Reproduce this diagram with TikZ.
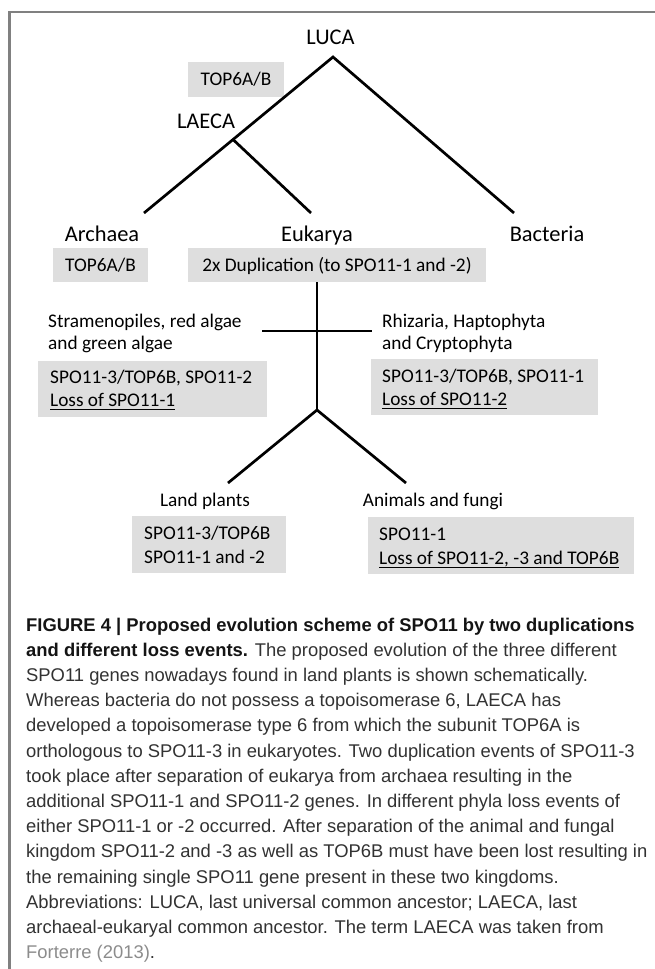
\documentclass[tikz,border=0pt]{standalone}
\usepackage{fontspec}
\setmainfont{Carlito}
\newfontfamily\capfont{Liberation Sans}
\definecolor{boxgray}{RGB}{222,222,222}
\definecolor{framegray}{RGB}{128,128,128}
\definecolor{captext}{RGB}{50,50,50}
\definecolor{capbold}{RGB}{20,20,20}
\definecolor{refgray}{RGB}{140,140,140}
\newsavebox\ulbox
\newcommand\myul[1]{\leavevmode\sbox\ulbox{#1}\rlap{\rule[-3.6pt]{\wd\ulbox}{1.3pt}}\usebox\ulbox}
\begin{document}
\begin{tikzpicture}[x=1pt,y=-1pt,
  big/.style={font=\fontsize{22.4}{26}\selectfont, inner sep=0pt, anchor=base},
  small/.style={font=\fontsize{19.3}{22}\selectfont, inner sep=0pt, anchor=base west},
  smallc/.style={font=\fontsize{19.3}{22}\selectfont, inner sep=0pt, anchor=base},
  onebox/.style={fill=boxgray, inner sep=0pt, font=\fontsize{19.3}{22}\selectfont, text height=12pt, text depth=0pt},
  twobox/.style={fill=boxgray, inner ysep=0pt, anchor=north west},
  branch/.style={line width=2.7pt, draw=black, line join=miter},
  capline/.style={font=\capfont\fontsize{18.4}{25.2}\selectfont, text=captext, inner sep=0pt, anchor=base west},
  framel/.style={line width=2.2pt, draw=framegray}
]
\useasboundingbox (0,0) rectangle (655,969);
\fill[white] (0,0) rectangle (655,969);
% frame
\coordinate (fl) at (9.5,969);
\coordinate (fc) at (9.5,12);
\coordinate (fr) at (655,12);
\draw[framel] (fl) -- (fc) -- (fr);

% labels
\node[big] (luca) at (330.5,44) {LUCA};
\node[big] (laeca) at (206,128) {LAECA};
\node[big] (arch) at (102,241) {Archaea};
\node[big] (euk) at (317,241) {Eukarya};
\node[big] (bact) at (547,241) {Bacteria};

% single-line boxes
\node[onebox, minimum width=96pt, minimum height=35pt] (top6a) at (236,79.5) {TOP6A/B};
\node[onebox, minimum width=95pt, minimum height=34pt] (top6b) at (100.5,265) {TOP6A/B};
\node[onebox, minimum width=298pt, minimum height=34pt] (dup) at (337,265) {2x Duplication (to SPO11-1 and -2)};

% group labels
\node[small] (stram) at (48,327) {\vtop{\hbox{Stramenopiles, red algae}\hbox{and green algae}}};
\node[small] (rhiz) at (382,327) {\vtop{\hbox{Rhizaria, Haptophyta}\hbox{and Cryptophyta}}};
\node[smallc] (land) at (205,506) {Land plants};
\node[smallc] (anim) at (433,506) {Animals and fungi};

% two-line boxes
\node[twobox, inner xsep=12pt] (strbox) at (38,361) {\parbox[c][56pt][t]{205pt}{\fontsize{19.3}{23.5}\selectfont\raggedright\rule{0pt}{22pt}SPO11-3/TOP6B, SPO11-2\\\myul{Loss of SPO11-1}}};
\node[twobox, inner xsep=11pt] (rhizbox) at (371,359) {\parbox[c][56pt][t]{205pt}{\fontsize{19.3}{23}\selectfont\raggedright\rule{0pt}{23pt}SPO11-3/TOP6B, SPO11-1\\\myul{Loss of SPO11-2}}};
\node[twobox, inner xsep=12pt] (landbox) at (132,516) {\parbox[c][57pt][t]{130pt}{\fontsize{19.3}{24}\selectfont\raggedright\rule{0pt}{23pt}SPO11-3/TOP6B\\SPO11-1 and -2}};
\node[twobox, inner xsep=11pt] (animbox) at (368,517) {\parbox[c][57pt][t]{244pt}{\fontsize{19.3}{24}\selectfont\raggedright\rule{0pt}{23pt}SPO11-1\\\myul{Loss of SPO11-2, -3 and TOP6B}}};

% tree
\coordinate (apex) at (333,57);
\coordinate (archend) at (144,213);
\coordinate (junc) at (233,139.5);
\coordinate (eukend) at (311,213);
\coordinate (bactend) at (514,213);
\draw[branch] (archend) -- (apex) -- (bactend);
\draw[branch] (junc) -- (eukend);
\coordinate (vtop) at (317,282);
\coordinate (bpt) at (317,410);
\coordinate (crossl) at (262,331);
\coordinate (crossr) at (372,331);
\coordinate (landend) at (228,483);
\coordinate (animend) at (406,483);
\draw[branch] (vtop) -- (bpt);
\draw[branch] (crossl) -- (crossr);
\draw[branch] (landend) -- (bpt) -- (animend);

% caption
\node[capline] (c1) at (26,631) {\textcolor{capbold}{\bfseries FIGURE 4 | Proposed evolution scheme of SPO11 by two duplications}};
\node[capline] (c2) at (26,656.2) {\textcolor{capbold}{\bfseries and different loss events.} The proposed evolution of the three different};
\node[capline] (c3) at (26,681.4) {SPO11 genes nowadays found in land plants is shown schematically.};
\node[capline] (c4) at (26,706.6) {Whereas bacteria do not possess a topoisomerase 6, LAECA has};
\node[capline] (c5) at (26,731.8) {developed a topoisomerase type 6 from which the subunit TOP6A is};
\node[capline] (c6) at (26,757) {orthologous to SPO11-3 in eukaryotes. Two duplication events of SPO11-3};
\node[capline] (c7) at (26,782.2) {took place after separation of eukarya from archaea resulting in the};
\node[capline] (c8) at (26,807.4) {additional SPO11-1 and SPO11-2 genes. In different phyla loss events of};
\node[capline] (c9) at (26,832.6) {either SPO11-1 or -2 occurred. After separation of the animal and fungal};
\node[capline] (c10) at (26,857.8) {kingdom SPO11-2 and -3 as well as TOP6B must have been lost resulting in};
\node[capline] (c11) at (26,883) {the remaining single SPO11 gene present in these two kingdoms.};
\node[capline] (c12) at (26,908.2) {Abbreviations: LUCA, last universal common ancestor; LAECA, last};
\node[capline] (c13) at (26,933.4) {archaeal-eukaryal common ancestor. The term LAECA was taken from};
\node[capline] (c14) at (26,958.6) {\textcolor{refgray}{Forterre (2013)}.};
\end{tikzpicture}
\end{document}
